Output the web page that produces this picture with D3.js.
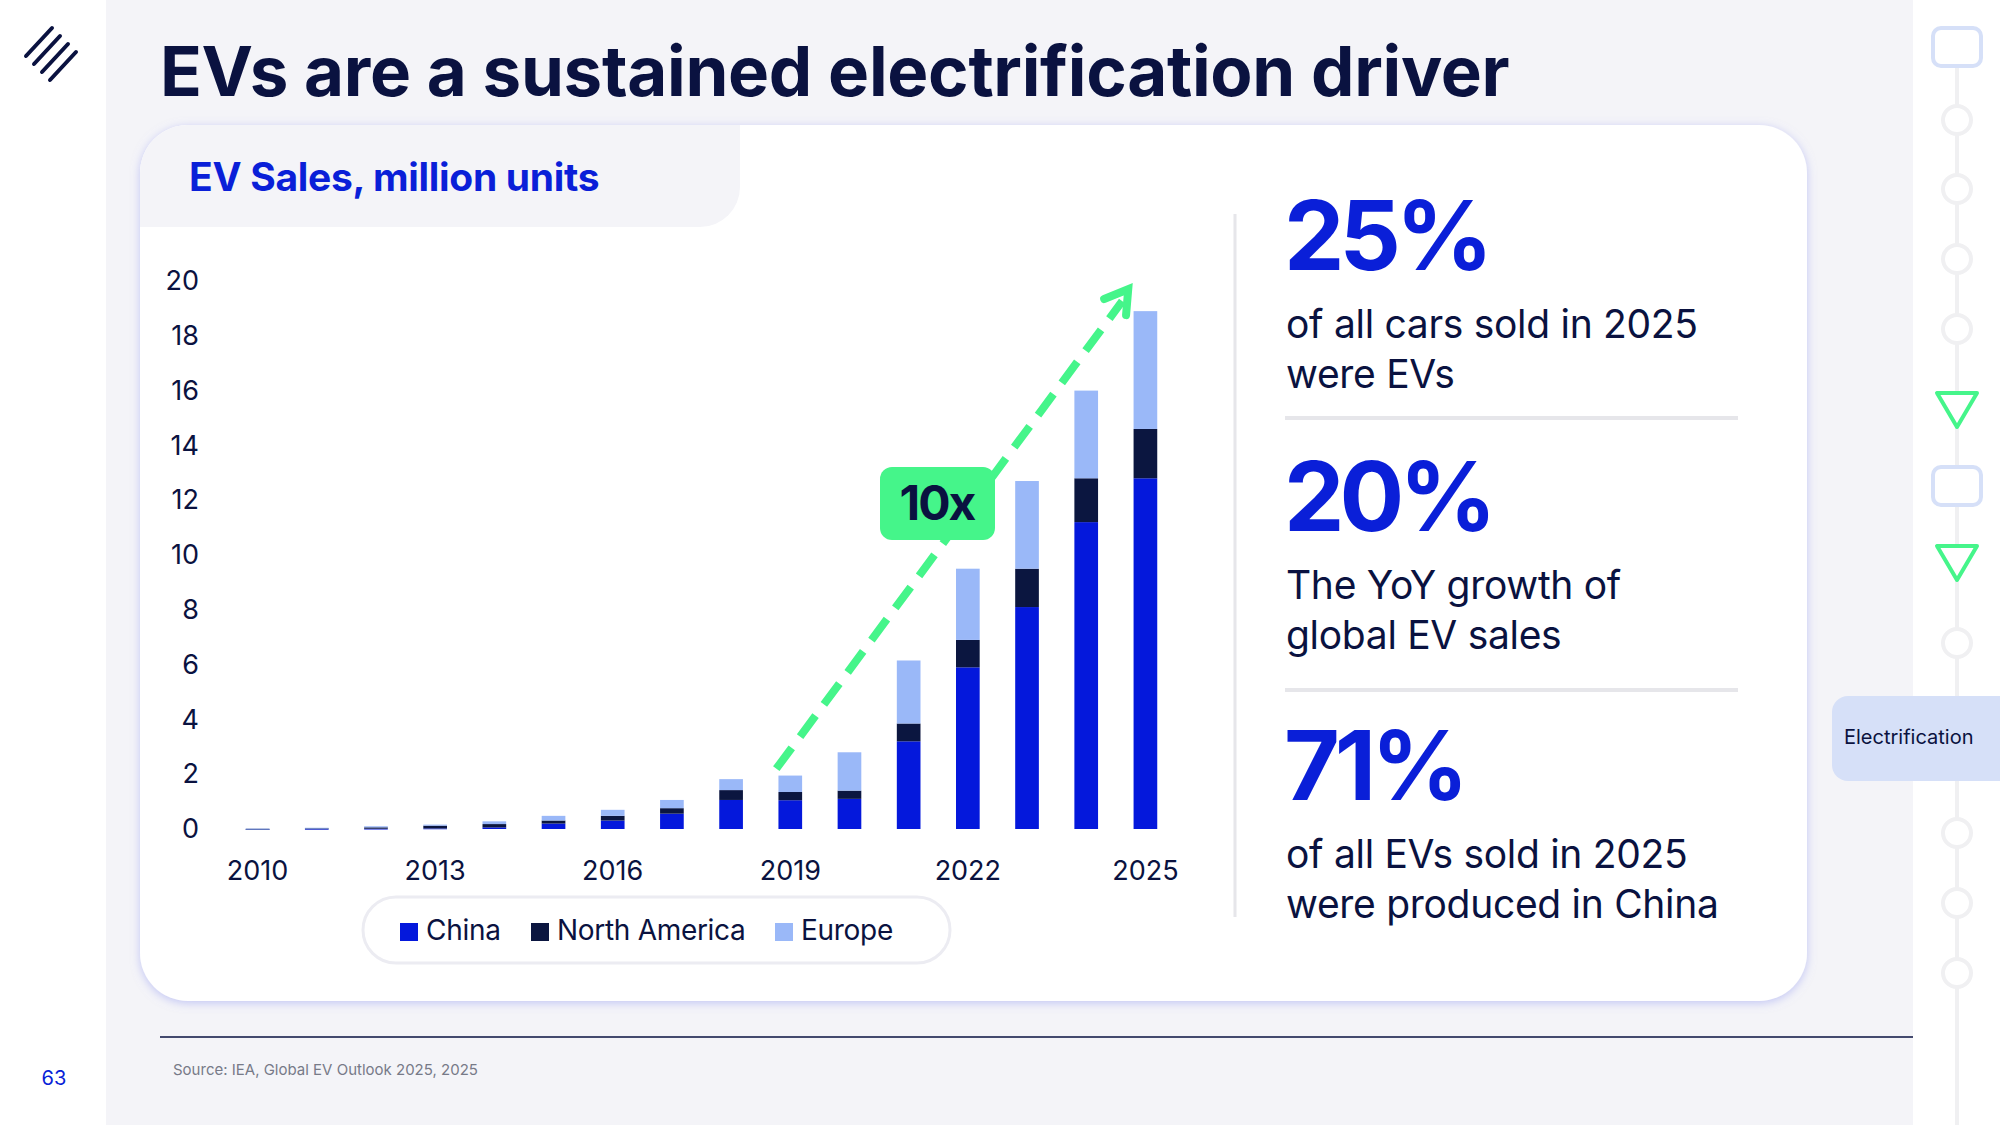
<!DOCTYPE html>
<html><head><meta charset="utf-8">
<script src="https://cdn.jsdelivr.net/npm/d3@7"></script>
<style>body{margin:0;background:#fff}svg{display:block}</style>
</head><body><svg id="c" width="2000" height="1125"></svg>
<script>
const years = d3.range(2010, 2026);
const china = [0.003,0.005,0.01,0.02,0.06,0.2,0.31,0.56,1.06,1.05,1.1,3.2,5.9,8.1,11.2,12.8];
const northAmerica = [0.003,0.02,0.05,0.1,0.12,0.11,0.17,0.2,0.36,0.3,0.3,0.65,1.0,1.4,1.6,1.8];
const europe = [0.004,0.02,0.04,0.04,0.1,0.17,0.22,0.3,0.4,0.6,1.4,2.3,2.6,3.2,3.2,4.3];
const yTicks = [0,2,4,6,8,10,12,14,16,18,20];
const xTickYears = [2010,2013,2016,2019,2022,2025];
const seriesNames = ["China","North America","Europe"];
const colors = ["#0418dc","#0b1640","#9ab8f8"];
const stats = [
  {big:"25%", lines:["of all cars sold in 2025","were EVs"]},
  {big:"20%", lines:["The YoY growth of","global EV sales"]},
  {big:"71%", lines:["of all EVs sold in 2025","were produced in China"]}
];

const svg = d3.select("#c");
const F = "Inter, 'Noto Sans', sans-serif";
const navy = "#0a1240", blue = "#0a1fd8", green = "#45f58a";

svg.append("rect").attr("width",2000).attr("height",1125).attr("fill","#f4f4f8");
svg.append("rect").attr("width",106).attr("height",1125).attr("fill","#fff");
svg.append("rect").attr("x",1913).attr("width",87).attr("height",1125).attr("fill","#fff");

// logo
[0,1,2,3].forEach(i=>{
  svg.append("line").attr("x1",26+i*8).attr("y1",64+i*8-8).attr("x2",60+i*8-8).attr("y2",36+i*8-8)
    .attr("stroke",navy).attr("stroke-width",4).attr("stroke-linecap","round");
});
svg.append("text").attr("x",54).attr("y",1085).attr("text-anchor","middle").attr("font-family",F)
  .attr("font-size",20).attr("fill",blue).text("63");

svg.append("text").attr("x",160).attr("y",96).attr("font-family",F).attr("font-weight",700)
  .attr("font-size",69).attr("letter-spacing",-0.3).attr("fill",navy).text("EVs are a sustained electrification driver");

// card
const defs = svg.append("defs");
const f = defs.append("filter").attr("id","sh").attr("x","-5%").attr("y","-5%").attr("width","110%").attr("height","110%");
f.append("feDropShadow").attr("dx",0).attr("dy",2).attr("stdDeviation",5).attr("flood-color","#8f95f0").attr("flood-opacity",0.5);
defs.append("clipPath").attr("id","cardclip").append("rect").attr("x",140).attr("y",125).attr("width",1667).attr("height",876).attr("rx",48);
svg.append("rect").attr("x",140).attr("y",125).attr("width",1667).attr("height",876).attr("rx",48)
  .attr("fill","#fff").attr("filter","url(#sh)");
svg.append("path").attr("clip-path","url(#cardclip)")
  .attr("d","M140,125 H740 V187 A40,40 0 0 1 700,227 H140 Z").attr("fill","#f4f4f8");
svg.append("text").attr("x",189).attr("y",191).attr("font-family",F).attr("font-weight",700)
  .attr("font-size",39).attr("letter-spacing",-0.3).attr("fill",blue).text("EV Sales, million units");

// chart
const x = d3.scaleBand().domain(years).range([228,1175]).paddingInner(0.6).paddingOuter(0.3);
const y = d3.scaleLinear().domain([0,20]).range([829,281]);
const yAxis = svg.append("g").attr("transform","translate(199,0)")
  .call(d3.axisLeft(y).tickValues(yTicks).tickSize(0).tickPadding(0));
yAxis.select(".domain").remove();
yAxis.selectAll("text").attr("font-family",F).attr("font-size",27).attr("fill",navy).attr("dy","0.32em");

const xAxis = svg.append("g").attr("transform","translate(0,861)")
  .call(d3.axisBottom(x).tickValues(xTickYears).tickSize(0).tickPadding(0));
xAxis.select(".domain").remove();
xAxis.selectAll("text").attr("font-family",F).attr("font-size",27).attr("fill",navy).attr("dy","0.71em");

const rows = years.map((yr,i)=>({year:yr, China:china[i], "North America":northAmerica[i], Europe:europe[i]}));
const stacked = d3.stack().keys(seriesNames)(rows);
svg.append("g").selectAll("g").data(stacked).join("g").attr("fill",(d,i)=>colors[i])
  .selectAll("rect").data(d=>d).join("rect")
  .attr("x",d=>x(d.data.year)).attr("width",x.bandwidth())
  .attr("y",d=>y(d[1])).attr("height",d=>Math.max(0.8,y(d[0])-y(d[1])));

// arrow
const ax1 = x(2019)+x.bandwidth()/2-14, ay1 = y(2.2), ax2 = x(2024)+x.bandwidth()/2+42, ay2 = y(19.7);
svg.append("line").attr("x1",ax1).attr("y1",ay1).attr("x2",ax2-6).attr("y2",ay2+12)
  .attr("stroke",green).attr("stroke-width",8).attr("stroke-dasharray","26,14");
const ang = Math.atan2(ay2-ay1, ax2-ax1);
const ah = 26;
const p = (a,l)=>[ax2 - l*Math.cos(ang+a), ay2 - l*Math.sin(ang+a)];
svg.append("path").attr("d",`M${p(0.55,ah)} L${ax2},${ay2} L${p(-0.55,ah)}`)
  .attr("fill","none").attr("stroke",green).attr("stroke-width",8).attr("stroke-linejoin","miter").attr("stroke-linecap","round");
svg.append("rect").attr("x",880).attr("y",467).attr("width",115).attr("height",73).attr("rx",12).attr("fill",green);
svg.append("text").attr("x",937).attr("y",520).attr("text-anchor","middle").attr("font-family",F).attr("font-weight",700)
  .attr("font-size",48).attr("letter-spacing",-2).attr("fill",navy).text("10x");

// legend
svg.append("rect").attr("x",363).attr("y",897).attr("width",587).attr("height",66).attr("rx",33)
  .attr("fill","#fff").attr("stroke","#ececf2").attr("stroke-width",3);
const lx = [400,531,775];
seriesNames.forEach((n,i)=>{
  svg.append("rect").attr("x",lx[i]).attr("y",923).attr("width",18).attr("height",18).attr("fill",colors[i]);
  svg.append("text").attr("x",lx[i]+26).attr("y",940).attr("font-family",F).attr("font-size",28).attr("letter-spacing",-0.3).attr("fill",navy).text(n);
});

// divider + stats
svg.append("line").attr("x1",1235).attr("x2",1235).attr("y1",214).attr("y2",917).attr("stroke","#e6e6ea").attr("stroke-width",3);
const baseY = [270,531,800];
const sepY = [418,690];
stats.forEach((s,i)=>{
  svg.append("text").attr("x",1284).attr("y",baseY[i]).attr("font-family",F).attr("font-weight",700)
    .attr("font-size",96).attr("letter-spacing",-5).attr("fill",blue).text(s.big);
  s.lines.forEach((l,j)=>{
    svg.append("text").attr("x",1286).attr("y",baseY[i]+68+j*50).attr("font-family",F)
      .attr("font-size",39).attr("letter-spacing",-0.3).attr("fill",navy).text(l);
  });
  if(i<2) svg.append("line").attr("x1",1285).attr("x2",1738).attr("y1",sepY[i]).attr("y2",sepY[i])
    .attr("stroke","#e6e6ea").attr("stroke-width",4);
});

svg.append("line").attr("x1",160).attr("x2",1913).attr("y1",1037).attr("y2",1037).attr("stroke",navy).attr("stroke-width",1.5);
svg.append("text").attr("x",173).attr("y",1075).attr("font-family",F).attr("font-size",15).attr("fill","#777a88")
  .text("Source: IEA, Global EV Outlook 2025, 2025");

// right nav
svg.append("line").attr("x1",1957).attr("x2",1957).attr("y1",60).attr("y2",1125).attr("stroke","#f0f0f2").attr("stroke-width",4);
const navItems = [["r",47],["c",120],["c",189],["c",259],["c",329],["t",410],["r",486],["t",563],["c",643],["c",833],["c",903],["c",973]];
navItems.forEach(([t,cy])=>{
  if(t==="r") svg.append("rect").attr("x",1933).attr("y",cy-19).attr("width",48).attr("height",38).attr("rx",8)
    .attr("fill","#fff").attr("stroke","#d6e0f8").attr("stroke-width",4);
  else if(t==="c") svg.append("circle").attr("cx",1957).attr("cy",cy).attr("r",14).attr("fill","#fff").attr("stroke","#f0f0f2").attr("stroke-width",4);
  else svg.append("path").attr("d",`M1937,${cy-17} L1977,${cy-17} L1957,${cy+17} Z`).attr("fill","#fff").attr("stroke",green).attr("stroke-width",4).attr("stroke-linejoin","round");
});
svg.append("path").attr("d","M2000,696 H1848 A16,16 0 0 0 1832,712 V765 A16,16 0 0 0 1848,781 H2000 Z").attr("fill","#d6e0f8");
svg.append("text").attr("x",1844).attr("y",744).attr("font-family",F).attr("font-size",20).attr("fill",navy).text("Electrification");
</script></body></html>
